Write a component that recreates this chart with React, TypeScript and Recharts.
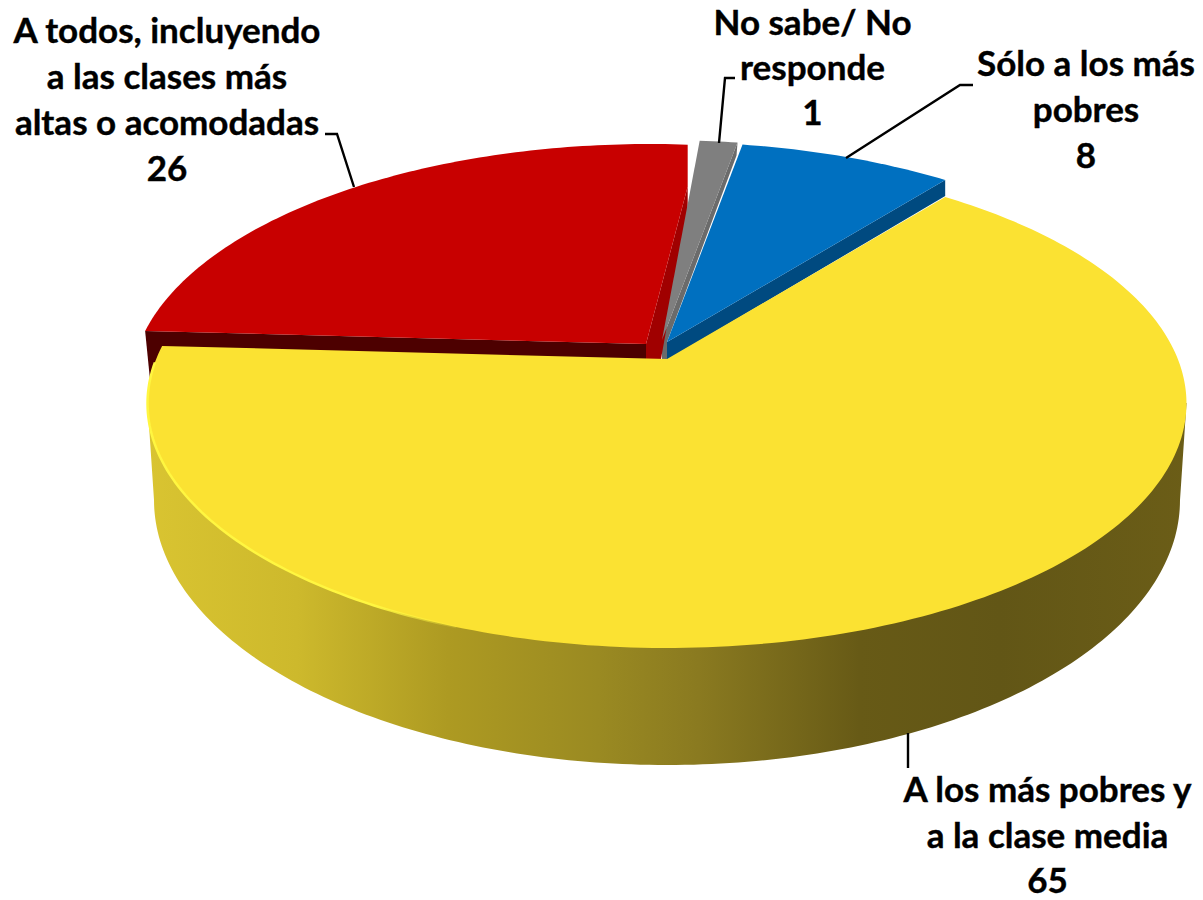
import React from 'react';
import { PieChart, Pie } from 'recharts';

const categories = [
  'A los más pobres y a la clase media',
  'Sólo a los más pobres',
  'No sabe/ No responde',
  'A todos, incluyendo a las clases más altas o acomodadas',
];
const values = [65.2, 7.9, 1.4, 25.5];
const faceColors = ['#fbe232', '#0070c0', '#7f7f7f', '#c80000'];
const labelLines = [
  ['A los más pobres y', 'a la clase media', '65'],
  ['Sólo a los más', 'pobres', '8'],
  ['No sabe/ No', 'responde', '1'],
  ['A todos, incluyendo', 'a las clases más', 'altas o acomodadas', '26'],
];

const data = categories.map((name, i) => ({ name, value: values[i], fill: faceColors[i] }));

const W = 1203;
const H = 900;
const CX = 667;
const CY = 359;
const RA = 510.8;
const RB = 236.4;
const PERSPECTIVE = 0.182;
const FONT = 'Lato, Carlito, sans-serif';

// explosion offset of each slice relative to the pie centre
const OFFSETS = [
  [0, 0],
  [0, -17],
  [-5, -19],
  [-21, -15],
];
const RIM_SHIFT = [0, 0, 0, 4];

const project = (cx: number, cy: number, r: number, deg: number, idx: number) => {
  const t = (deg * Math.PI) / 180;
  const u = r * Math.cos(t);
  const v = r * Math.sin(t);
  const w = 1 + PERSPECTIVE * v;
  return [
    cx + OFFSETS[idx][0] + (r > 0 ? RIM_SHIFT[idx] : 0) + (RA * u) / w,
    cy + OFFSETS[idx][1] - (RB * v) / w,
  ];
};

const toPath = (pts: number[][], close = true) =>
  pts.map((p, i) => `${i ? 'L' : 'M'}${p[0].toFixed(2)},${p[1].toFixed(2)}`).join(' ') + (close ? ' Z' : '');

const arcPoints = (cx: number, cy: number, a0: number, a1: number, idx: number) => {
  const pts: number[][] = [];
  const n = Math.max(2, Math.ceil(Math.abs(a1 - a0)));
  for (let i = 0; i <= n; i++) pts.push(project(cx, cy, 1, a0 + ((a1 - a0) * i) / n, idx));
  return pts;
};

const redTip = (apex: number[], hi: number[]) => [hi[0], apex[1] + (hi[1] - apex[1]) * 0.79];

const Face = (p: any) => {
  const idx = p.index;
  const apex = project(p.cx, p.cy, 0, 0, idx);
  const rim = arcPoints(p.cx, p.cy, p.startAngle, p.endAngle, idx);
  return (
    <g>
      <path
        d={toPath(idx === 3 ? [apex, redTip(apex, rim[0]), ...rim] : [apex, ...rim])}
        fill={p.fill}
        stroke="none"
      />
      {idx === 0 && (
        <path
          d={toPath(arcPoints(p.cx, p.cy, p.startAngle + 4, 250, idx), false)}
          fill="none"
          stroke="url(#rimGradient)"
          strokeWidth={2.5}
        />
      )}
    </g>
  );
};

const quad = (apex: number[], rim: number[], rimOff: number[], apexOffs: number[][]) => [
  apex,
  rim,
  [rim[0] + rimOff[0], rim[1] + rimOff[1]],
  ...apexOffs.map((o) => [apex[0] + o[0], apex[1] + o[1]]),
];

const Wall = (p: any) => {
  const idx = p.index;
  const apex = project(p.cx, p.cy, 0, 0, idx);
  if (idx === 0) {
    // outer wall: silhouette between the top rim and the lower rim
    const lowerCy = p.cy + 141;
    const lowerRx = 513;
    const lowerRy = 265;
    const pts: number[][] = [[p.cx - 519.5, p.cy + 44]];
    for (let a = 180; a <= 360; a++) {
      const t = (a * Math.PI) / 180;
      pts.push([p.cx + lowerRx * Math.cos(t), lowerCy - lowerRy * Math.sin(t)]);
    }
    pts.push([p.cx + 519.5, p.cy + 44]);
    return <path d={toPath(pts)} fill="url(#wallGradient)" stroke="none" />;
  }
  if (idx === 1) {
    const rim = project(p.cx, p.cy, 1, p.startAngle, idx);
    return <path d={toPath(quad(apex, rim, [0, 16], [[0, 18]]))} fill="#004a80" />;
  }
  if (idx === 2) {
    const rim = project(p.cx, p.cy, 1, p.startAngle, idx);
    return (
      <path
        d={toPath(quad(apex, rim, [-1, 13], [[5, 2], [5, 19], [0, 19]]))}
        fill="#6b6b6b"
      />
    );
  }
  const lowEdge = project(p.cx, p.cy, 1, p.endAngle, idx);
  const hiEdge = project(p.cx, p.cy, 1, p.startAngle, idx);
  const tip = redTip(apex, hiEdge);
  return (
    <g>
      <path d={toPath(quad(apex, lowEdge, [5, 50], [[0, 15]]))} fill="#4d0000" />
      <path
        d={toPath([apex, tip, [tip[0], tip[1] + 23], [apex[0] + 15, apex[1] + 15], [apex[0], apex[1] + 15]])}
        fill="#a00000"
      />
    </g>
  );
};

const LABEL_LAYOUT = [
  { x: 1047.5, y: 802, lh: 45.5, anchor: 'middle', line: [[908, 733], [908, 768]] },
  { x: 1086, y: 76, lh: 46, anchor: 'middle', line: [[846, 158], [960, 85], [973, 85]] },
  { x: 812.5, y: 35, lh: 45, anchor: 'middle', line: [[719, 143], [725, 78], [735, 78]] },
  { x: 167, y: 43, lh: 46, anchor: 'middle', line: [[325, 134], [337, 134], [354, 187]] },
];

const renderLabel = (p: any) => {
  const layout = LABEL_LAYOUT[p.index];
  const lines = labelLines[p.index];
  return (
    <g key={p.index}>
      <polyline
        points={layout.line.map((q) => q.join(',')).join(' ')}
        fill="none"
        stroke="#000"
        strokeWidth={2.4}
      />
      <text
        x={layout.x}
        y={layout.y}
        textAnchor={layout.anchor as any}
        fontFamily={FONT}
        fontWeight={700}
        fontSize={35}
        fill="#000"
        stroke="#000"
        strokeWidth={0.4}
      >
        {lines.map((l, i) => (
          <tspan key={i} x={layout.x} y={layout.y + i * layout.lh}>
            {l}
          </tspan>
        ))}
      </text>
    </g>
  );
};

export default function App() {
  return (
    <div style={{ position: 'absolute', left: 0, top: 0, width: W, height: H, background: '#fff' }}>
      <PieChart width={W} height={H} margin={{ top: 0, right: 0, bottom: 0, left: 0 }}>
        <defs>
          <linearGradient id="wallGradient" gradientUnits="userSpaceOnUse" x1={148} y1={0} x2={1187} y2={0}>
            <stop offset="0" stopColor="#d9c431" />
            <stop offset="0.144" stopColor="#cdb92c" />
            <stop offset="0.289" stopColor="#ad9a22" />
            <stop offset="0.433" stopColor="#9a8a22" />
            <stop offset="0.53" stopColor="#8a7a20" />
            <stop offset="0.685" stopColor="#675a16" />
            <stop offset="0.82" stopColor="#625616" />
            <stop offset="1" stopColor="#6b5d17" />
          </linearGradient>
          <linearGradient id="rimGradient" gradientUnits="userSpaceOnUse" x1={150} y1={0} x2={470} y2={0}>
            <stop offset="0" stopColor="#fff640" />
            <stop offset="0.7" stopColor="#fff640" />
            <stop offset="1" stopColor="#fff640" stopOpacity={0} />
          </linearGradient>
        </defs>
        <Pie
          data={data}
          dataKey="value"
          nameKey="name"
          cx={CX}
          cy={CY}
          outerRadius={236}
          startAngle={176.8}
          endAngle={536.8}
          stroke="none"
          shape={Wall}
          label={false}
          labelLine={false}
          isAnimationActive={false}
        />
        <Pie
          data={data}
          dataKey="value"
          nameKey="name"
          cx={CX}
          cy={CY}
          outerRadius={236}
          startAngle={176.8}
          endAngle={536.8}
          stroke="none"
          shape={Face}
          label={renderLabel}
          labelLine={false}
          isAnimationActive={false}
        />
      </PieChart>
    </div>
  );
}
